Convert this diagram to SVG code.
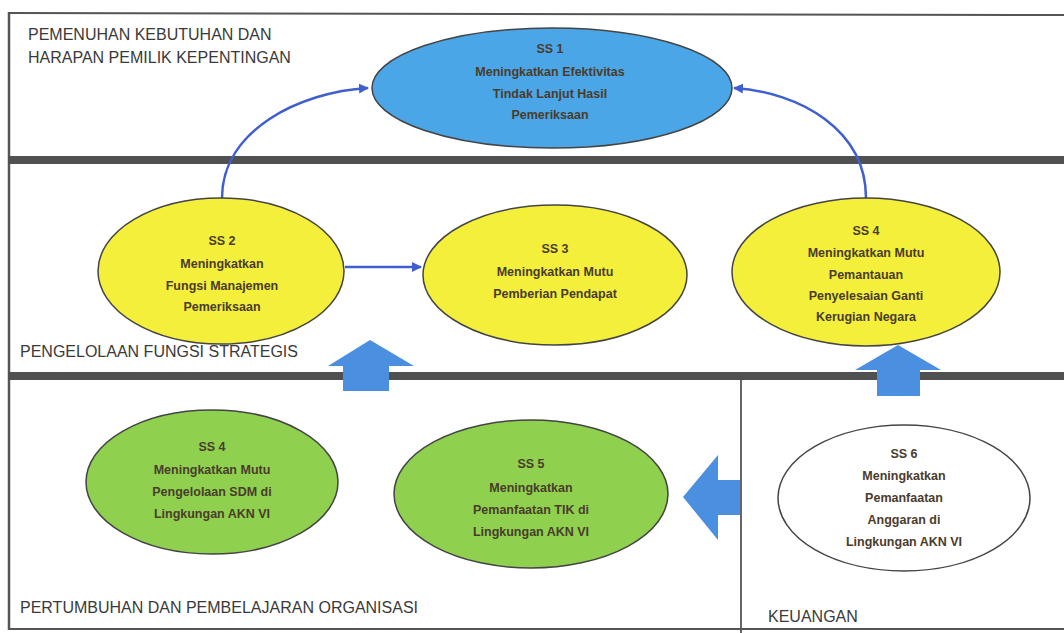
<svg xmlns="http://www.w3.org/2000/svg" width="1064" height="633" viewBox="0 0 1064 633">
<defs>
<style>
.lbl{font-family:"Liberation Sans",Arial,sans-serif;font-size:16px;fill:#3a3a3a}
.nt{font-family:"Liberation Sans",Arial,sans-serif;font-size:12.5px;font-weight:bold;fill:#4a3c2c;text-anchor:middle}
.band{fill:#505050}
.edge{fill:none;stroke:#3f5fd0;stroke-width:2.5}
.blk{fill:#4a8fe0}
.n{stroke:#444;stroke-width:1.5}
</style>
<marker id="ah" viewBox="0 0 10 10" refX="9" refY="5" markerWidth="4" markerHeight="4" orient="auto"><path d="M0,0L10,5L0,10z" fill="#3f5fd0"/></marker>
</defs>
<rect x="0" y="0" width="1064" height="633" fill="#ffffff"/>
<g id="frame">
<line x1="8" y1="13" x2="1064" y2="15" stroke="#555" stroke-width="2"/>
<line x1="9" y1="12" x2="9" y2="630" stroke="#555" stroke-width="2.5"/>
<rect class="band" x="8" y="156" width="1056" height="8"/>
<rect class="band" x="8" y="372" width="1056" height="8"/>
<line x1="741" y1="380" x2="741" y2="633" stroke="#333" stroke-width="1.5"/>
<line x1="8" y1="629" x2="1064" y2="629" stroke="#555" stroke-width="2"/>
</g>
<g id="labels">
<text class="lbl" x="28" y="40">PEMENUHAN KEBUTUHAN DAN</text>
<text class="lbl" x="28" y="63">HARAPAN PEMILIK KEPENTINGAN</text>
<text class="lbl" x="20" y="357">PENGELOLAAN FUNGSI STRATEGIS</text>
<text class="lbl" x="20" y="613">PERTUMBUHAN DAN PEMBELAJARAN ORGANISASI</text>
<text class="lbl" x="768" y="622">KEUANGAN</text>
</g>
<g id="connectors">
<path class="edge" d="M222,198 C222,130 300,92 368,88" marker-end="url(#ah)"/>
<path class="edge" d="M866,198 C866,130 800,92 734,88" marker-end="url(#ah)"/>
<path class="edge" d="M345,267 L421,267" marker-end="url(#ah)"/>
<polygon class="blk" points="370,340 414,366 389,366 389,391 343,391 343,366 328,366"/>
<polygon class="blk" points="898,345 941,370 920,370 920,396 877,396 877,370 855,370"/>
<polygon class="blk" points="683,497 718,455 718,480 740,480 740,515 718,515 718,540"/>
</g>
<g id="ss1">
<ellipse class="n" cx="552" cy="88" rx="180" ry="60" fill="#4aa6e6"/>
<text class="nt" x="550" y="53">SS 1</text>
<text class="nt" x="550" y="76">Meningkatkan Efektivitas</text>
<text class="nt" x="550" y="98">Tindak Lanjut Hasil</text>
<text class="nt" x="550" y="119">Pemeriksaan</text>
</g>
<g id="ss2">
<ellipse class="n" cx="221" cy="271" rx="123" ry="73" fill="#f4ef3a"/>
<text class="nt" x="222" y="245">SS 2</text>
<text class="nt" x="222" y="268">Meningkatkan</text>
<text class="nt" x="222" y="290">Fungsi Manajemen</text>
<text class="nt" x="222" y="311">Pemeriksaan</text>
</g>
<g id="ss3">
<ellipse class="n" cx="555" cy="275" rx="132" ry="70" fill="#f4ef3a"/>
<text class="nt" x="555" y="253">SS 3</text>
<text class="nt" x="555" y="276">Meningkatkan Mutu</text>
<text class="nt" x="555" y="298">Pemberian Pendapat</text>
</g>
<g id="ss4a">
<ellipse class="n" cx="866" cy="272" rx="134" ry="74" fill="#f4ef3a"/>
<text class="nt" x="866" y="235">SS 4</text>
<text class="nt" x="866" y="257">Meningkatkan Mutu</text>
<text class="nt" x="866" y="279">Pemantauan</text>
<text class="nt" x="866" y="300">Penyelesaian Ganti</text>
<text class="nt" x="866" y="321">Kerugian Negara</text>
</g>
<g id="ss4b">
<ellipse class="n" cx="212" cy="482" rx="126" ry="72" fill="#8fd14f"/>
<text class="nt" x="212" y="451">SS 4</text>
<text class="nt" x="212" y="474">Meningkatkan Mutu</text>
<text class="nt" x="212" y="496">Pengelolaan SDM di</text>
<text class="nt" x="212" y="518">Lingkungan  AKN VI</text>
</g>
<g id="ss5">
<ellipse class="n" cx="531" cy="494" rx="137" ry="74" fill="#8fd14f"/>
<text class="nt" x="531" y="468">SS 5</text>
<text class="nt" x="531" y="492">Meningkatkan</text>
<text class="nt" x="531" y="514">Pemanfaatan TIK di</text>
<text class="nt" x="531" y="536">Lingkungan AKN VI</text>
</g>
<g id="ss6">
<ellipse class="n" cx="904" cy="498" rx="126" ry="73" fill="#ffffff"/>
<text class="nt" x="904" y="458">SS 6</text>
<text class="nt" x="904" y="480">Meningkatkan</text>
<text class="nt" x="904" y="502">Pemanfaatan</text>
<text class="nt" x="904" y="524">Anggaran di</text>
<text class="nt" x="904" y="546">Lingkungan AKN VI</text>
</g>
</svg>
